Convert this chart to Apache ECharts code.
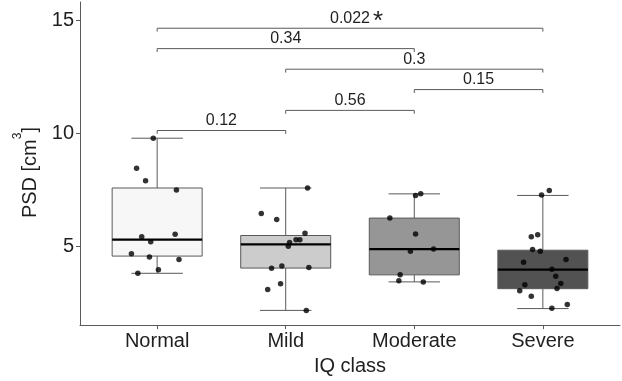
<!DOCTYPE html>
<html>
<head>
<meta charset="utf-8">
<script src="https://cdn.jsdelivr.net/npm/echarts@6/dist/echarts.min.js"></script>
<style>
html,body{margin:0;padding:0;background:#fff;}
#chart{width:622px;height:381px;}
</style>
</head>
<body>
<div id="chart"></div>
<script>
// ---- data ----
var categories = ['Normal', 'Mild', 'Moderate', 'Severe'];
var yTicks = [5, 10, 15];
// [lower whisker, Q1, median, Q3, upper whisker]
var statsNormal   = [3.81, 4.57, 5.30, 7.58, 9.78];
var statsMild     = [2.17, 4.04, 5.09, 5.48, 7.58];
var statsModerate = [3.43, 3.74, 4.88, 6.25, 7.32];
var statsSevere   = [2.25, 3.13, 3.97, 4.83, 7.25];
// individual observations (value) with horizontal jitter (offset from category)
var valuesNormal   = [9.78, 8.45, 7.90, 7.49, 5.43, 5.53, 5.20, 4.67, 4.53, 4.42, 3.97, 3.81];
var jitterNormal   = [-0.03, -0.16, -0.09, 0.15, -0.12, 0.14, -0.05, -0.20, -0.06, 0.17, 0.01, -0.15];
var valuesMild     = [7.58, 6.45, 6.19, 5.58, 5.17, 5.29, 5.29, 5.00, 4.03, 4.13, 4.07, 3.35, 3.09, 2.16];
var jitterMild     = [0.17, -0.19, -0.07, 0.15, 0.03, 0.08, 0.11, 0.02, -0.11, -0.03, 0.18, -0.04, -0.14, 0.16];
var valuesModerate = [7.32, 7.25, 6.25, 5.55, 4.88, 4.78, 3.75, 3.48, 3.43];
var jitterModerate = [0.05, 0.01, -0.19, 0.01, 0.15, -0.03, -0.11, -0.12, 0.07];
var valuesSevere   = [7.47, 7.27, 5.42, 5.51, 4.86, 4.78, 4.30, 4.42, 3.99, 3.68, 3.36, 3.30, 3.14, 3.04, 2.80, 2.43, 2.27];
var jitterSevere   = [0.05, -0.01, -0.09, -0.04, -0.08, -0.02, -0.15, 0.18, 0.07, 0.10, 0.14, -0.14, 0.11, -0.18, -0.09, 0.19, 0.07];
// pairwise comparison brackets
var bracketFrom  = [1, 1, 2, 3, 2, 1];
var bracketTo    = [4, 3, 4, 4, 3, 2];
var bracketY     = [14.64, 13.74, 12.83, 11.93, 11.01, 10.12];
var bracketLabel = ['0.022', '0.34', '0.3', '0.15', '0.56', '0.12'];
var bracketStar  = ['*', '', '', '', '', ''];

// ---- styles ----
var FONT = "'Liberation Sans', Arial, Helvetica, sans-serif";
var boxFills = ['#f7f7f7', '#cccccc', '#969696', '#525252'];
var lineCol = '#5a5a5a';
var textCol = '#1f1f1f';
var LABEL_SIZE = 16;

var measureCtx = document.createElement('canvas').getContext('2d');
function textWidth(str, size) {
  measureCtx.font = size + 'px ' + FONT;
  return measureCtx.measureText(str).width;
}

var allStats = [statsNormal, statsMild, statsModerate, statsSevere];
var allValues = [valuesNormal, valuesMild, valuesModerate, valuesSevere];
var allJitter = [jitterNormal, jitterMild, jitterModerate, jitterSevere];

var boxData = allStats.map(function (s, k) { return [k + 1].concat(s); });
var pointData = [];
allValues.forEach(function (vals, k) {
  vals.forEach(function (v, j) { pointData.push([k + 1 + allJitter[k][j], v]); });
});
var bracketData = bracketFrom.map(function (f, k) { return [f, bracketTo[k], bracketY[k], k]; });

function renderBox(params, api) {
  var i = api.value(0), lo = api.value(1), q1 = api.value(2), med = api.value(3), q3 = api.value(4), hi = api.value(5);
  var hw = 0.35, cw = 0.2;
  var a = api.coord([i - hw, q3]), b = api.coord([i + hw, q1]);
  var top = api.coord([i, hi]), bot = api.coord([i, lo]);
  var capL1 = api.coord([i - cw, hi]), capR1 = api.coord([i + cw, hi]);
  var capL2 = api.coord([i - cw, lo]), capR2 = api.coord([i + cw, lo]);
  var mL = api.coord([i - hw, med]), mR = api.coord([i + hw, med]);
  var ls = { stroke: lineCol, lineWidth: 1 };
  return {
    type: 'group',
    children: [
      { type: 'line', shape: { x1: top[0], y1: top[1], x2: top[0], y2: a[1] }, style: ls },
      { type: 'line', shape: { x1: bot[0], y1: bot[1], x2: bot[0], y2: b[1] }, style: ls },
      { type: 'line', shape: { x1: capL1[0], y1: capL1[1], x2: capR1[0], y2: capR1[1] }, style: ls },
      { type: 'line', shape: { x1: capL2[0], y1: capL2[1], x2: capR2[0], y2: capR2[1] }, style: ls },
      { type: 'rect', shape: { x: a[0], y: a[1], width: b[0] - a[0], height: b[1] - a[1] },
        style: { fill: boxFills[params.dataIndex], stroke: lineCol, lineWidth: 1 } },
      { type: 'line', shape: { x1: mL[0], y1: mL[1], x2: mR[0], y2: mR[1] }, style: { stroke: '#000', lineWidth: 2.2 } }
    ]
  };
}

function renderBracket(params, api) {
  var f = api.value(0), t = api.value(1), y = api.value(2), k = api.value(3);
  var tip = 0.15;
  var p1 = api.coord([f, y - tip]), p2 = api.coord([f, y]), p3 = api.coord([t, y]), p4 = api.coord([t, y - tip]);
  var mid = api.coord([(f + t) / 2, y]);
  var children = [
    { type: 'polyline', shape: { points: [p1, p2, p3, p4] }, style: { stroke: lineCol, lineWidth: 1, fill: null } },
    { type: 'text', x: mid[0], y: mid[1] - 2,
      style: { text: bracketLabel[k], align: 'center', verticalAlign: 'bottom', fill: textCol,
               fontSize: LABEL_SIZE, fontFamily: FONT } }
  ];
  if (bracketStar[k]) {
    var w = textWidth(bracketLabel[k], LABEL_SIZE);
    children.push({ type: 'text', x: mid[0] + w / 2 + 3, y: mid[1] - 6,
      style: { text: bracketStar[k], align: 'left', verticalAlign: 'middle', fill: textCol,
               fontSize: 26, fontFamily: FONT } });
  }
  return { type: 'group', children: children };
}

var chart = echarts.init(document.getElementById('chart'), null, { renderer: 'canvas' });
chart.setOption({
  animation: false,
  backgroundColor: '#ffffff',
  grid: { left: 80, right: 2, top: 2, bottom: 51, containLabel: false },
  xAxis: {
    type: 'value', min: 0.4, max: 4.6,
    name: 'IQ class', nameLocation: 'middle', nameGap: 30,
    nameTextStyle: { fontSize: 20, fontFamily: FONT, color: textCol },
    axisLine: { show: true, lineStyle: { color: lineCol, width: 1 } },
    axisTick: { show: true, length: 4, customValues: [1, 2, 3, 4], lineStyle: { color: lineCol } },
    axisLabel: { customValues: [1, 2, 3, 4], fontSize: 20, fontFamily: FONT, color: textCol, margin: 6,
      formatter: function (v) { return categories[Math.round(v) - 1] || ''; } },
    splitLine: { show: false }
  },
  yAxis: {
    type: 'value', min: 1.52, max: 15.8,
    name: 'PSD [cm{sup|3}]', nameLocation: 'middle', nameGap: 32,
    nameTextStyle: { fontSize: 20, fontFamily: FONT, color: textCol, padding: [0, 18, 0, 0],
      rich: { sup: { fontSize: 12, fontFamily: FONT, color: textCol, verticalAlign: 'top', padding: [0, 0, 24, 0] } } },
    axisLine: { show: true, lineStyle: { color: lineCol, width: 1 } },
    axisTick: { show: true, length: 4, customValues: yTicks, lineStyle: { color: lineCol } },
    axisLabel: { customValues: yTicks, fontSize: 20, fontFamily: FONT, color: textCol, margin: 6 },
    splitLine: { show: false }
  },
  series: [
    { type: 'custom', renderItem: renderBox, data: boxData, encode: { x: 0, y: [1, 2, 3, 4, 5] }, clip: false, z: 2 },
    { type: 'scatter', data: pointData, symbol: 'circle', symbolSize: 5.5, itemStyle: { color: '#000' }, z: 5, silent: true },
    { type: 'custom', renderItem: renderBracket, data: bracketData, encode: { x: [0, 1], y: 2 }, clip: false, z: 3 }
  ]
});
</script>
</body>
</html>
